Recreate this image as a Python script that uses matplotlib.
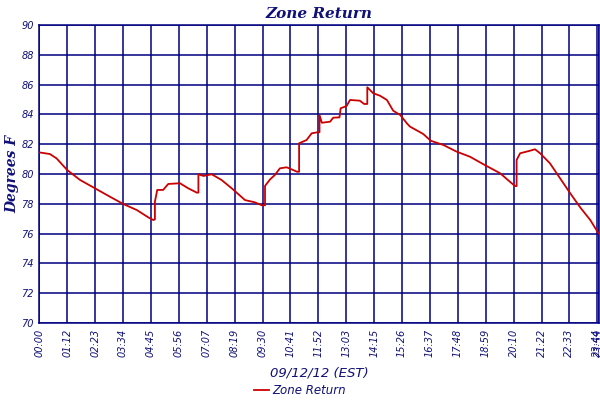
import matplotlib
matplotlib.use("Agg")
import matplotlib.pyplot as plt

# time in minutes since midnight, temperature in deg F
minutes = [0, 27, 44, 71, 104, 142, 180, 214, 249, 278, 291, 295, 295, 301,
           316, 329, 359, 380, 402, 406, 406, 419, 440, 465, 491, 525, 550, 568,
           576, 576, 589, 601, 614, 631, 644, 658, 663, 663, 682, 695, 710, 715,
           715, 721, 742, 750, 766, 769, 784, 793, 818, 829, 837, 837, 852, 869,
           887, 903, 921, 938, 946, 972, 980, 999, 1031, 1065, 1099, 1137, 1176,
           1201, 1214, 1218, 1218, 1227, 1252, 1265, 1278, 1303, 1329, 1355, 1380,
           1406, 1427]
temps = [81.45, 81.34, 81.05, 80.27, 79.6, 79.04, 78.48, 77.99, 77.58, 77.09,
         76.91, 76.95, 78.14, 78.93, 78.93, 79.33, 79.38, 79.04, 78.75, 78.75,
         79.98, 79.87, 79.98, 79.6, 79.04, 78.25, 78.1, 77.9, 77.9, 79.2, 79.64,
         79.93, 80.38, 80.45, 80.31, 80.15, 80.15, 82.06, 82.28, 82.73, 82.8,
         82.8, 83.96, 83.44, 83.51, 83.78, 83.8, 84.41, 84.56, 84.97, 84.92,
         84.7, 84.7, 85.82, 85.42, 85.26, 84.97, 84.25, 83.96, 83.4, 83.18, 82.8,
         82.68, 82.23, 81.95, 81.5, 81.16, 80.6, 80.05, 79.48, 79.19, 79.19,
         80.94, 81.39, 81.56, 81.66, 81.39, 80.72, 79.71, 78.7, 77.77, 76.91,
         76.02]

tick_labels = ["00:00", "01:12", "02:23", "03:34", "04:45", "05:56", "07:07",
               "08:19", "09:30", "10:41", "11:52", "13:03", "14:15", "15:26",
               "16:37", "17:48", "18:59", "20:10", "21:22", "22:33", "23:44"]
end_label = "23:59"
y_ticks = [70, 72, 74, 76, 78, 80, 82, 84, 86, 88, 90]

title = "Zone Return"
xlabel = "09/12/12 (EST)"
ylabel = "Degrees F"

navy = "#000080"
textc = "#10107a"

fig = plt.figure(figsize=(6, 4), dpi=100)
ax = fig.add_axes([0.0655, 0.1925, 0.9333, 0.745])

step = 71.2
xt = [i * step for i in range(len(tick_labels))]
xmax = 1429
ax.set_xlim(0, xmax)
ax.set_ylim(70, 90)

ax.plot(minutes, temps, color="#cc0000", lw=1.3, label="Zone Return", zorder=3)

ax.set_xticks(xt + [xmax])
ax.set_xticklabels(tick_labels + [end_label], rotation=90, fontstyle="italic",
                   fontsize=7, color=textc, family="DejaVu Sans")
ax.set_yticks(y_ticks)
ax.set_yticklabels([str(v) for v in y_ticks], fontstyle="italic", fontsize=7,
                   color=textc, family="DejaVu Sans")
ax.tick_params(length=0, pad=4)
ax.grid(True, color=navy, lw=1.1)
ax.set_axisbelow(True)
for s in ax.spines.values():
    s.set_color(navy)
    s.set_linewidth(1.1)

ax.set_title(title, fontsize=11, fontweight="bold", fontstyle="italic",
             color=textc, family="DejaVu Serif", pad=5)
ax.set_xlabel(xlabel, fontsize=9.5, fontstyle="italic", color=textc,
              family="DejaVu Sans")
ax.xaxis.set_label_coords(0.5, -0.145)
ax.set_ylabel(ylabel, fontsize=10, fontweight="bold", fontstyle="italic",
              color=textc, family="DejaVu Serif")
ax.yaxis.set_label_coords(-0.036, 0.5)

leg = fig.legend(loc="lower center", bbox_to_anchor=(0.5, -0.02), frameon=False,
                 prop={"style": "italic", "size": 8.5, "family": "DejaVu Sans"},
                 handlelength=1.2, handletextpad=0.3)
for t in leg.get_texts():
    t.set_color(textc)

fig.savefig("out.png", dpi=100)
